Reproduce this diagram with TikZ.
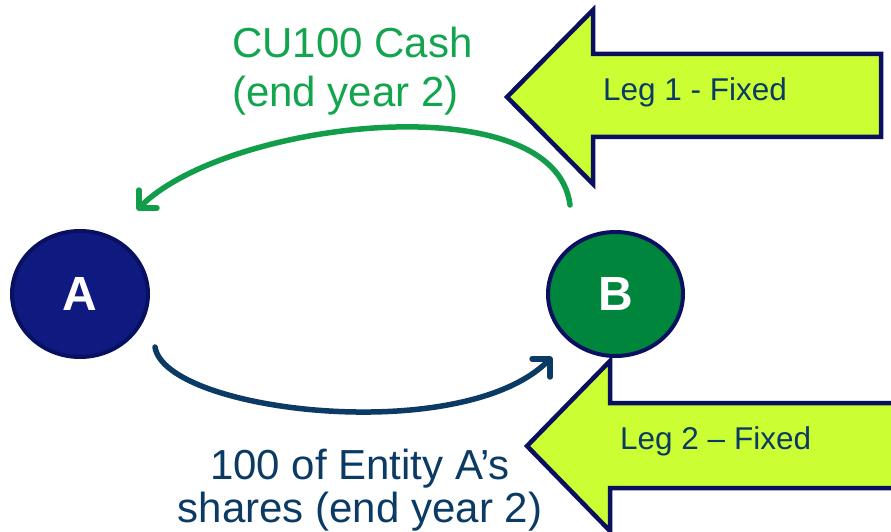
\documentclass[tikz,border=0pt]{standalone}
\usepackage{fontspec}
\setmainfont{Liberation Sans}
\usetikzlibrary{arrows.meta,shapes.geometric}

\definecolor{navyline}{HTML}{0A1060}
\definecolor{afill}{HTML}{0E1A80}
\definecolor{bfill}{HTML}{00853D}
\definecolor{legfill}{HTML}{CCFF33}
\definecolor{cashgreen}{HTML}{12A54E}
\definecolor{shareblue}{HTML}{0B3A64}

\tikzset{
  party/.style={ellipse, inner sep=0pt, draw=navyline, line width=4pt,
    text=white, font=\fontsize{48}{48}\selectfont\bfseries},
  legarrow/.style={draw=navyline, fill=legfill, line width=4.5pt, line join=miter},
  legtext/.style={anchor=base west, inner sep=0pt, text=shareblue,
    font=\fontsize{31.5}{36}\selectfont},
  flow/.style={line width=5.5pt, line cap=round,
    -{Straight Barb[angle=90:18pt, round, line width=5.5pt]}},
}

\begin{document}
\begin{tikzpicture}[x=1pt, y=-1pt]
\useasboundingbox (0,0) rectangle (891,532);
\clip (0,0) rectangle (891,532);

% the two fixed legs
\draw[legarrow] (507,97) -- (593,10) -- (593,54) -- (881,54) -- (881,137)
  -- (593,137) -- (593,184) -- cycle;
\draw[legarrow] (527,446) -- (610,361) -- (610,403) -- (905,403) -- (905,488)
  -- (610,488) -- (610,531) -- cycle;
\node[legtext] (leg1) at (603,101) {Leg 1 - Fixed};
\node[legtext] (leg2) at (620,449) {Leg 2 – Fixed};

% the two parties
\node[party, fill=afill, minimum width=136pt, minimum height=126pt] (A) at (80,294) {A};
\node[party, fill=bfill, minimum width=135pt, minimum height=124pt] (B) at (615.5,294) {B};

% cash from B to A
\draw[flow, cashgreen!95!black]
  ([shift={(-45.5,-89)}]B.center) .. controls (555,83) and (227,120)
  .. ([shift={(57,-84)}]A.center);
% shares from A to B
\draw[flow, shareblue]
  ([shift={(75,53)}]A.center) .. controls (165,412) and (462,447)
  .. ([shift={(-63.5,63)}]B.center);

% flow labels
\node[anchor=base west, inner sep=0pt, text=cashgreen,
  font=\fontsize{42}{49}\selectfont] (cash) at (232,58)
  {\begin{tabular}[t]{@{}l@{}}CU100 Cash\\(end year 2)\end{tabular}};
\node[anchor=base, inner sep=0pt, text=shareblue,
  font=\fontsize{42}{42}\selectfont] (shares) at (360,479)
  {\begin{tabular}[t]{@{}c@{}}100 of Entity A’s\\shares (end year 2)\end{tabular}};
\end{tikzpicture}
\end{document}
